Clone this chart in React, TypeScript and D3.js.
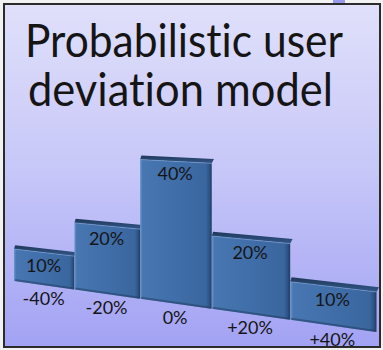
import React from 'react';
import * as d3 from 'd3';

// Deviation buckets and their probabilities
const categories = ['-40%', '-20%', '0%', '+20%', '+40%'];
const values = [10, 20, 40, 20, 10];
const titleLines = ['Probabilistic user', 'deviation model'];

const W = 383;
const H = 350;

// Flat chart space: one unit per bucket, heights in px at the near edge
const band = d3.scaleBand<string>().domain(categories).range([0, categories.length]);
const heightScale = d3.scaleLinear().domain([0, 10]).range([0, 32]);
const spread = d3.scaleLinear().domain([0, 1]).range([0, 58]);

// Simple perspective: the right end of the row is closer to the viewer
const depth = (u: number) => 1 - 0.04 * u;
const origin = { x: 14, y: 281 };
const baseTilt = 0.1405;

function project(u: number, h: number): [number, number] {
  const d = depth(u);
  const fx = spread(u) / d;
  return [origin.x + fx, origin.y + baseTilt * fx - h / d];
}

const poly = (pts: [number, number][]) => d3.line()(pts) + 'Z';

const font = "Lato, 'Open Sans', sans-serif";

export default function App() {
  const bars = categories.map((c, i) => {
    const u0 = band(c) as number;
    const u1 = u0 + band.bandwidth();
    const h = heightScale(values[i]);
    const bl = project(u0, 0);
    const br = project(u1, 0);
    const tl = project(u0, h);
    const tr = project(u1, h);
    const capL: [number, number] = [tl[0] + 1.2 / depth(u0), tl[1] - 3.8 / depth(u0)];
    const capR: [number, number] = [tr[0] + 2 / depth(u1), tr[1] - 3.8 / depth(u1)];
    const um = u0 + band.bandwidth() / 2;
    const top = project(um, h);
    const base = project(um, 0);
    return { c, v: values[i], bl, br, tl, tr, capL, capR, top, base };
  });

  return (
    <svg
      width={W}
      height={H}
      viewBox={`0 0 ${W} ${H}`}
      style={{ position: 'absolute', left: 0, top: 0, display: 'block' }}
    >
      <defs>
        <linearGradient id="panelBg" x1="0" y1="0" x2="0" y2="1">
          <stop offset="0" stopColor="#e0e0fb" />
          <stop offset="0.5" stopColor="#c6c6f8" />
          <stop offset="1" stopColor="#a2a2f4" />
        </linearGradient>
        <linearGradient id="barFront" x1="0" y1="0" x2="1" y2="0">
          <stop offset="0" stopColor="#6d96c9" />
          <stop offset="0.035" stopColor="#4876b0" />
          <stop offset="0.5" stopColor="#406ea8" />
          <stop offset="0.92" stopColor="#3a669e" />
          <stop offset="0.97" stopColor="#2c5284" />
          <stop offset="1" stopColor="#1e3a60" />
        </linearGradient>
        <linearGradient id="barCap" x1="0" y1="0" x2="0" y2="1">
          <stop offset="0" stopColor="#1f3858" />
          <stop offset="1" stopColor="#33578a" />
        </linearGradient>
      </defs>

      <rect x={0} y={0} width={W} height={H} fill="#f2f2f2" />
      <rect x={333} y={0} width={12} height={3} fill="#9a9aec" />
      <rect
        x={4}
        y={4}
        width={376}
        height={343}
        fill="url(#panelBg)"
        stroke="#2b2b2b"
        strokeWidth={2}
      />

      <g fontFamily={font} fill="#151515" style={{ fontVariantLigatures: 'none' }}>
        <text x={25} y={57} fontSize={46} textLength={318} lengthAdjust="spacingAndGlyphs">
          {titleLines[0]}
        </text>
        <text x={28} y={106} fontSize={46} textLength={305} lengthAdjust="spacingAndGlyphs">
          {titleLines[1]}
        </text>
      </g>

      <g>
        {bars.map((b) => (
          <g key={b.c}>
            <path d={poly([b.tl, b.tr, b.capR, b.capL])} fill="url(#barCap)" />
            <path d={poly([b.bl, b.br, b.tr, b.tl])} fill="url(#barFront)" />
            <path
              d={d3.line()([b.tl, b.tr]) as string}
              stroke="#7ea4d3"
              strokeWidth={1}
              strokeOpacity={0.6}
              fill="none"
            />
            <path
              d={d3.line()([
                [b.bl[0] + 1, b.bl[1] - 1],
                [b.br[0] - 1, b.br[1] - 1],
              ]) as string}
              stroke="#1f3a5e"
              strokeWidth={2}
              strokeOpacity={0.5}
              fill="none"
            />
          </g>
        ))}
      </g>

      <g fontFamily={font} fontSize={18} fill="#151515" textAnchor="middle">
        {bars.map((b) => (
          <text key={'v' + b.c} x={b.top[0]} y={b.top[1] + 19}>
            {`${b.v}%`}
          </text>
        ))}
        {bars.map((b) => (
          <text key={'c' + b.c} x={b.base[0]} y={b.base[1] + 20}>
            {b.c}
          </text>
        ))}
      </g>
    </svg>
  );
}
